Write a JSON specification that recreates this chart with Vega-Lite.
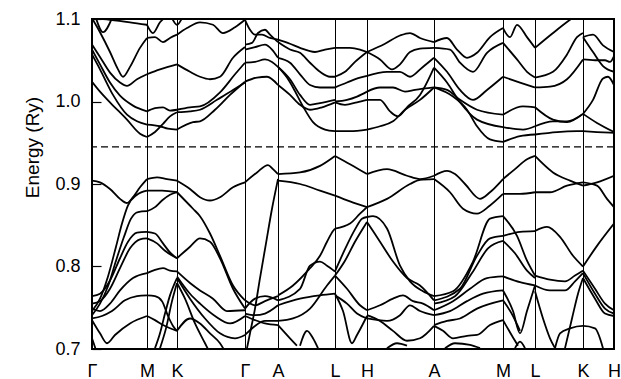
{
"$schema": "https://vega.github.io/schema/vega-lite/v6.json",
"width": 522, "height": 330,
"autosize": {"type": "none"},
"padding": {"left": 92, "top": 19, "right": 7, "bottom": 30},
"background": "white",
"config": {"view": {"stroke": "black", "strokeWidth": 2}, "font": "Liberation Sans",
"axis": {"titleFontSize": 19, "titleFontWeight": "normal", "titleColor": "black", "labelColor": "black"},
"axisY": {"titleFontSize": 19, "titleFontWeight": "normal", "titleColor": "black", "titleFont": "Liberation Sans", "labelFontSize": 18, "labelColor": "black", "labelFont": "Liberation Sans"},
"axisX": {"labelFontSize": 18, "labelColor": "black", "labelFont": "Liberation Sans"}},
"layer": [
{"data": {"values": [
{"b":"A1","k":0,"e":1.101},{"b":"A1","k":8,"e":1.084},{"b":"A1","k":18,"e":1.060},{"b":"A1","k":26,"e":1.039},{"b":"A1","k":31,"e":1.030},{"b":"A1","k":38,"e":1.042},{"b":"A1","k":48,"e":1.065},{"b":"A1","k":55,"e":1.077},
{"b":"A2","k":0,"e":1.069},{"b":"A2","k":8,"e":1.054},{"b":"A2","k":18,"e":1.035},{"b":"A2","k":28,"e":1.023},{"b":"A2","k":35,"e":1.019},{"b":"A2","k":45,"e":1.027},{"b":"A2","k":55,"e":1.033},
{"b":"A3","k":0,"e":1.063},{"b":"A3","k":8,"e":1.045},{"b":"A3","k":18,"e":1.023},{"b":"A3","k":28,"e":1.007},{"b":"A3","k":41,"e":0.995},{"b":"A3","k":55,"e":0.988},
{"b":"A4","k":0,"e":1.057},{"b":"A4","k":8,"e":1.039},{"b":"A4","k":21,"e":1.008},{"b":"A4","k":35,"e":0.984},{"b":"A4","k":45,"e":0.976},{"b":"A4","k":55,"e":0.972},
{"b":"A5","k":0,"e":1.024},{"b":"A5","k":8,"e":1.012},{"b":"A5","k":18,"e":0.999},{"b":"A5","k":35,"e":0.978},{"b":"A5","k":48,"e":0.961},{"b":"A5","k":55,"e":0.957},
{"b":"A6","k":0,"e":1.101},{"b":"A6","k":18,"e":1.099},{"b":"A6","k":38,"e":1.096},{"b":"A6","k":55,"e":1.093},
{"b":"A7","k":4,"e":1.101},{"b":"A7","k":11,"e":1.084},{"b":"A7","k":20,"e":1.101},
{"b":"A8","k":0,"e":0.904},{"b":"A8","k":8,"e":0.902},{"b":"A8","k":18,"e":0.894},{"b":"A8","k":28,"e":0.882},{"b":"A8","k":35,"e":0.877},{"b":"A8","k":41,"e":0.884},{"b":"A8","k":48,"e":0.896},{"b":"A8","k":55,"e":0.906},
{"b":"A9","k":0,"e":0.746},{"b":"A9","k":8,"e":0.761},{"b":"A9","k":16,"e":0.788},{"b":"A9","k":24,"e":0.824},{"b":"A9","k":30,"e":0.852},{"b":"A9","k":36,"e":0.874},{"b":"A9","k":45,"e":0.887},{"b":"A9","k":55,"e":0.892},
{"b":"A10","k":0,"e":0.741},{"b":"A10","k":8,"e":0.755},{"b":"A10","k":16,"e":0.776},{"b":"A10","k":24,"e":0.807},{"b":"A10","k":32,"e":0.836},{"b":"A10","k":39,"e":0.858},{"b":"A10","k":46,"e":0.866},{"b":"A10","k":55,"e":0.867},
{"b":"A11","k":0,"e":0.764},{"b":"A11","k":8,"e":0.767},{"b":"A11","k":18,"e":0.783},{"b":"A11","k":28,"e":0.810},{"b":"A11","k":36,"e":0.830},{"b":"A11","k":45,"e":0.841},{"b":"A11","k":55,"e":0.842},
{"b":"A12","k":0,"e":0.755},{"b":"A12","k":8,"e":0.758},{"b":"A12","k":18,"e":0.773},{"b":"A12","k":28,"e":0.798},{"b":"A12","k":38,"e":0.822},{"b":"A12","k":48,"e":0.833},{"b":"A12","k":55,"e":0.834},
{"b":"A13","k":0,"e":0.749},{"b":"A13","k":8,"e":0.746},{"b":"A13","k":18,"e":0.755},{"b":"A13","k":28,"e":0.771},{"b":"A13","k":41,"e":0.786},{"b":"A13","k":55,"e":0.792},
{"b":"A14","k":0,"e":0.737},{"b":"A14","k":10,"e":0.740},{"b":"A14","k":20,"e":0.746},{"b":"A14","k":33,"e":0.759},{"b":"A14","k":45,"e":0.764},{"b":"A14","k":55,"e":0.765},
{"b":"A15","k":0,"e":0.735},{"b":"A15","k":8,"e":0.719},{"b":"A15","k":15,"e":0.707},{"b":"A15","k":23,"e":0.717},{"b":"A15","k":38,"e":0.731},{"b":"A15","k":55,"e":0.740},
{"b":"A16","k":0,"e":0.713},{"b":"A16","k":5,"e":0.695},
{"b":"B1","k":55,"e":1.077},{"b":"B1","k":63,"e":1.078},{"b":"B1","k":71,"e":1.072},{"b":"B1","k":78,"e":1.077},{"b":"B1","k":85,"e":1.081},
{"b":"B2","k":55,"e":1.033},{"b":"B2","k":68,"e":1.039},{"b":"B2","k":85,"e":1.045},
{"b":"B3","k":55,"e":0.988},{"b":"B3","k":63,"e":0.992},{"b":"B3","k":71,"e":0.993},{"b":"B3","k":78,"e":0.989},{"b":"B3","k":85,"e":0.990},
{"b":"B4","k":55,"e":0.972},{"b":"B4","k":68,"e":0.970},{"b":"B4","k":76,"e":0.967},{"b":"B4","k":85,"e":0.966},
{"b":"B5","k":55,"e":0.957},{"b":"B5","k":63,"e":0.963},{"b":"B5","k":71,"e":0.973},{"b":"B5","k":78,"e":0.982},{"b":"B5","k":85,"e":0.987},
{"b":"B6","k":55,"e":1.093},{"b":"B6","k":61,"e":1.083},{"b":"B6","k":68,"e":1.096},{"b":"B6","k":72,"e":1.101},
{"b":"B6b","k":80,"e":1.101},{"b":"B6b","k":85,"e":1.093},{"b":"B6b","k":90,"e":1.101},
{"b":"B7","k":55,"e":0.906},{"b":"B7","k":65,"e":0.908},{"b":"B7","k":75,"e":0.906},{"b":"B7","k":85,"e":0.904},
{"b":"B8","k":55,"e":0.892},{"b":"B8","k":70,"e":0.892},{"b":"B8","k":85,"e":0.890},
{"b":"B9","k":55,"e":0.867},{"b":"B9","k":63,"e":0.872},{"b":"B9","k":70,"e":0.880},{"b":"B9","k":78,"e":0.887},{"b":"B9","k":85,"e":0.890},
{"b":"B10","k":55,"e":0.842},{"b":"B10","k":63,"e":0.840},{"b":"B10","k":71,"e":0.828},{"b":"B10","k":78,"e":0.817},{"b":"B10","k":85,"e":0.810},
{"b":"B11","k":55,"e":0.834},{"b":"B11","k":65,"e":0.828},{"b":"B11","k":73,"e":0.819},{"b":"B11","k":85,"e":0.810},
{"b":"B12","k":55,"e":0.792},{"b":"B12","k":63,"e":0.796},{"b":"B12","k":71,"e":0.798},{"b":"B12","k":78,"e":0.795},{"b":"B12","k":85,"e":0.794},
{"b":"B13","k":55,"e":0.765},{"b":"B13","k":63,"e":0.764},{"b":"B13","k":70,"e":0.758},{"b":"B13","k":76,"e":0.740},{"b":"B13","k":81,"e":0.728},{"b":"B13","k":85,"e":0.722},
{"b":"B14","k":55,"e":0.740},{"b":"B14","k":63,"e":0.735},{"b":"B14","k":71,"e":0.729},{"b":"B14","k":85,"e":0.722},
{"b":"B15","k":63,"e":0.701},{"b":"B15","k":68,"e":0.719},{"b":"B15","k":73,"e":0.743},{"b":"B15","k":78,"e":0.765},{"b":"B15","k":85,"e":0.786},
{"b":"B16","k":68,"e":0.701},{"b":"B16","k":74,"e":0.725},{"b":"B16","k":80,"e":0.758},{"b":"B16","k":85,"e":0.780},
{"b":"C1","k":85,"e":1.081},{"b":"C1","k":95,"e":1.089},{"b":"C1","k":108,"e":1.096},{"b":"C1","k":121,"e":1.093},{"b":"C1","k":131,"e":1.083},{"b":"C1","k":143,"e":1.090},{"b":"C1","k":153,"e":1.099},
{"b":"C2","k":85,"e":1.045},{"b":"C2","k":98,"e":1.036},{"b":"C2","k":108,"e":1.030},{"b":"C2","k":118,"e":1.027},{"b":"C2","k":128,"e":1.030},{"b":"C2","k":141,"e":1.053},{"b":"C2","k":153,"e":1.066},
{"b":"C3","k":85,"e":0.990},{"b":"C3","k":98,"e":0.993},{"b":"C3","k":108,"e":0.994},{"b":"C3","k":128,"e":1.011},{"b":"C3","k":143,"e":1.033},{"b":"C3","k":153,"e":1.047},
{"b":"C4","k":85,"e":0.987},{"b":"C4","k":98,"e":0.988},{"b":"C4","k":108,"e":0.990},{"b":"C4","k":125,"e":1.002},{"b":"C4","k":141,"e":1.014},{"b":"C4","k":153,"e":1.023},
{"b":"C5","k":85,"e":0.966},{"b":"C5","k":101,"e":0.975},{"b":"C5","k":108,"e":0.976},{"b":"C5","k":123,"e":0.990},{"b":"C5","k":138,"e":1.008},{"b":"C5","k":153,"e":1.024},
{"b":"C7","k":85,"e":0.904},{"b":"C7","k":98,"e":0.894},{"b":"C7","k":108,"e":0.884},{"b":"C7","k":118,"e":0.880},{"b":"C7","k":128,"e":0.884},{"b":"C7","k":141,"e":0.896},{"b":"C7","k":153,"e":0.902},
{"b":"C8","k":85,"e":0.890},{"b":"C8","k":101,"e":0.870},{"b":"C8","k":108,"e":0.861},{"b":"C8","k":118,"e":0.840},{"b":"C8","k":128,"e":0.813},{"b":"C8","k":141,"e":0.777},{"b":"C8","k":153,"e":0.759},
{"b":"C9","k":85,"e":0.810},{"b":"C9","k":98,"e":0.824},{"b":"C9","k":108,"e":0.834},{"b":"C9","k":118,"e":0.830},{"b":"C9","k":128,"e":0.810},{"b":"C9","k":141,"e":0.773},{"b":"C9","k":153,"e":0.749},
{"b":"C10","k":85,"e":0.794},{"b":"C10","k":98,"e":0.780},{"b":"C10","k":108,"e":0.771},{"b":"C10","k":121,"e":0.761},{"b":"C10","k":135,"e":0.746},{"b":"C10","k":153,"e":0.747},
{"b":"C11","k":85,"e":0.788},{"b":"C11","k":98,"e":0.767},{"b":"C11","k":108,"e":0.755},{"b":"C11","k":123,"e":0.740},{"b":"C11","k":138,"e":0.731},{"b":"C11","k":153,"e":0.740},
{"b":"C12","k":85,"e":0.786},{"b":"C12","k":98,"e":0.761},{"b":"C12","k":113,"e":0.737},{"b":"C12","k":128,"e":0.719},{"b":"C12","k":143,"e":0.713},{"b":"C12","k":153,"e":0.717},
{"b":"C13","k":85,"e":0.780},{"b":"C13","k":93,"e":0.761},{"b":"C13","k":103,"e":0.731},{"b":"C13","k":113,"e":0.707},{"b":"C13","k":118,"e":0.695},
{"b":"C14","k":85,"e":0.722},{"b":"C14","k":98,"e":0.737},{"b":"C14","k":108,"e":0.731},{"b":"C14","k":118,"e":0.719},{"b":"C14","k":128,"e":0.707},{"b":"C14","k":134,"e":0.695},
{"b":"D1","k":153,"e":1.099},{"b":"D1","k":158,"e":1.087},{"b":"D1","k":163,"e":1.081},{"b":"D1","k":170,"e":1.081},{"b":"D1","k":178,"e":1.077},{"b":"D1","k":186,"e":1.075},
{"b":"D2","k":153,"e":1.069},{"b":"D2","k":160,"e":1.071},{"b":"D2","k":166,"e":1.083},{"b":"D2","k":173,"e":1.087},{"b":"D2","k":178,"e":1.081},{"b":"D2","k":186,"e":1.072},
{"b":"D3","k":153,"e":1.063},{"b":"D3","k":163,"e":1.066},{"b":"D3","k":173,"e":1.069},{"b":"D3","k":180,"e":1.063},{"b":"D3","k":186,"e":1.053},
{"b":"D4","k":153,"e":1.047},{"b":"D4","k":163,"e":1.048},{"b":"D4","k":173,"e":1.051},{"b":"D4","k":180,"e":1.048},{"b":"D4","k":186,"e":1.042},
{"b":"D5","k":153,"e":1.024},{"b":"D5","k":165,"e":1.029},{"b":"D5","k":175,"e":1.030},{"b":"D5","k":186,"e":1.020},
{"b":"D6","k":153,"e":0.902},{"b":"D6","k":165,"e":0.914},{"b":"D6","k":176,"e":0.923},{"b":"D6","k":181,"e":0.918},{"b":"D6","k":186,"e":0.912},
{"b":"D7","k":155,"e":0.701},{"b":"D7","k":158,"e":0.719},{"b":"D7","k":163,"e":0.749},{"b":"D7","k":168,"e":0.786},{"b":"D7","k":174,"e":0.828},{"b":"D7","k":180,"e":0.870},{"b":"D7","k":186,"e":0.906},
{"b":"D8","k":153,"e":0.759},{"b":"D8","k":163,"e":0.753},{"b":"D8","k":173,"e":0.758},{"b":"D8","k":186,"e":0.764},
{"b":"D9","k":153,"e":0.749},{"b":"D9","k":163,"e":0.761},{"b":"D9","k":173,"e":0.764},{"b":"D9","k":186,"e":0.759},
{"b":"D10","k":153,"e":0.743},{"b":"D10","k":163,"e":0.741},{"b":"D10","k":173,"e":0.743},{"b":"D10","k":186,"e":0.753},
{"b":"D11","k":153,"e":0.740},{"b":"D11","k":163,"e":0.735},{"b":"D11","k":173,"e":0.731},{"b":"D11","k":186,"e":0.729},
{"b":"D12","k":153,"e":0.717},{"b":"D12","k":163,"e":0.728},{"b":"D12","k":173,"e":0.734},{"b":"D12","k":186,"e":0.734},
{"b":"E1","k":186,"e":1.075},{"b":"E1","k":198,"e":1.070},{"b":"E1","k":208,"e":1.065},{"b":"E1","k":223,"e":1.060},{"b":"E1","k":233,"e":1.063},{"b":"E1","k":243,"e":1.065},
{"b":"E2","k":186,"e":1.072},{"b":"E2","k":198,"e":1.063},{"b":"E2","k":208,"e":1.059},{"b":"E2","k":218,"e":1.047},{"b":"E2","k":228,"e":1.036},{"b":"E2","k":238,"e":1.030},{"b":"E2","k":243,"e":1.030},
{"b":"E3","k":186,"e":1.053},{"b":"E3","k":198,"e":1.047},{"b":"E3","k":208,"e":1.033},{"b":"E3","k":218,"e":1.020},{"b":"E3","k":228,"e":1.017},{"b":"E3","k":243,"e":1.017},
{"b":"E4","k":186,"e":1.042},{"b":"E4","k":195,"e":1.029},{"b":"E4","k":201,"e":1.017},{"b":"E4","k":211,"e":0.994},{"b":"E4","k":221,"e":0.975},{"b":"E4","k":233,"e":0.966},{"b":"E4","k":243,"e":0.964},
{"b":"E5","k":186,"e":1.020},{"b":"E5","k":198,"e":1.008},{"b":"E5","k":208,"e":0.996},{"b":"E5","k":218,"e":0.990},{"b":"E5","k":230,"e":0.993},{"b":"E5","k":243,"e":0.999},
{"b":"E6","k":186,"e":1.042},{"b":"E6","k":198,"e":1.027},{"b":"E6","k":208,"e":1.008},{"b":"E6","k":218,"e":0.996},{"b":"E6","k":228,"e":0.998},{"b":"E6","k":243,"e":1.002},
{"b":"E7","k":186,"e":0.912},{"b":"E7","k":208,"e":0.914},{"b":"E7","k":228,"e":0.922},{"b":"E7","k":243,"e":0.934},
{"b":"E8","k":186,"e":0.904},{"b":"E8","k":208,"e":0.900},{"b":"E8","k":228,"e":0.892},{"b":"E8","k":243,"e":0.886},
{"b":"E9","k":186,"e":0.765},{"b":"E9","k":201,"e":0.777},{"b":"E9","k":218,"e":0.798},{"b":"E9","k":228,"e":0.813},{"b":"E9","k":235,"e":0.830},{"b":"E9","k":241,"e":0.843},{"b":"E9","k":243,"e":0.846},
{"b":"E10","k":186,"e":0.759},{"b":"E10","k":208,"e":0.773},{"b":"E10","k":218,"e":0.801},{"b":"E10","k":228,"e":0.806},{"b":"E10","k":235,"e":0.801},{"b":"E10","k":243,"e":0.794},
{"b":"E11","k":186,"e":0.753},{"b":"E11","k":208,"e":0.761},{"b":"E11","k":228,"e":0.765},{"b":"E11","k":243,"e":0.767},
{"b":"E12","k":186,"e":0.734},{"b":"E12","k":201,"e":0.737},{"b":"E12","k":218,"e":0.749},{"b":"E12","k":235,"e":0.777},{"b":"E12","k":243,"e":0.789},
{"b":"E13","k":186,"e":0.729},{"b":"E13","k":198,"e":0.713},{"b":"E13","k":205,"e":0.704},
{"b":"E14","k":208,"e":0.704},{"b":"E14","k":215,"e":0.722},{"b":"E14","k":221,"e":0.713},{"b":"E14","k":226,"e":0.701},
{"b":"F1","k":243,"e":1.065},{"b":"F1","k":258,"e":1.065},{"b":"F1","k":268,"e":1.063},{"b":"F1","k":275,"e":1.060},
{"b":"F2","k":243,"e":1.030},{"b":"F2","k":253,"e":1.036},{"b":"F2","k":263,"e":1.048},{"b":"F2","k":275,"e":1.060},
{"b":"F3","k":243,"e":1.017},{"b":"F3","k":255,"e":1.023},{"b":"F3","k":268,"e":1.029},{"b":"F3","k":275,"e":1.031},
{"b":"F4","k":243,"e":1.000},{"b":"F4","k":255,"e":1.002},{"b":"F4","k":265,"e":1.006},{"b":"F4","k":275,"e":1.012},
{"b":"F5","k":243,"e":0.999},{"b":"F5","k":253,"e":0.996},{"b":"F5","k":265,"e":0.999},{"b":"F5","k":275,"e":1.002},
{"b":"F6","k":243,"e":0.964},{"b":"F6","k":258,"e":0.964},{"b":"F6","k":275,"e":0.966},
{"b":"F7","k":243,"e":0.934},{"b":"F7","k":258,"e":0.924},{"b":"F7","k":275,"e":0.912},
{"b":"F8","k":243,"e":0.886},{"b":"F8","k":258,"e":0.879},{"b":"F8","k":275,"e":0.872},
{"b":"F9","k":243,"e":0.846},{"b":"F9","k":258,"e":0.852},{"b":"F9","k":268,"e":0.864},{"b":"F9","k":275,"e":0.872},
{"b":"F10","k":243,"e":0.794},{"b":"F10","k":253,"e":0.821},{"b":"F10","k":263,"e":0.845},{"b":"F10","k":270,"e":0.858},{"b":"F10","k":275,"e":0.860},
{"b":"F11","k":243,"e":0.789},{"b":"F11","k":253,"e":0.807},{"b":"F11","k":263,"e":0.830},{"b":"F11","k":275,"e":0.854},
{"b":"F12","k":243,"e":0.767},{"b":"F12","k":251,"e":0.746},{"b":"F12","k":260,"e":0.707},{"b":"F12","k":265,"e":0.717},{"b":"F12","k":275,"e":0.740},
{"b":"F13","k":243,"e":0.789},{"b":"F13","k":255,"e":0.773},{"b":"F13","k":268,"e":0.753},{"b":"F13","k":275,"e":0.747},
{"b":"F14","k":243,"e":0.765},{"b":"F14","k":255,"e":0.755},{"b":"F14","k":265,"e":0.743},{"b":"F14","k":275,"e":0.737},
{"b":"G1","k":275,"e":1.060},{"b":"G1","k":293,"e":1.070},{"b":"G1","k":308,"e":1.080},{"b":"G1","k":318,"e":1.083},{"b":"G1","k":328,"e":1.077},{"b":"G1","k":342,"e":1.072},
{"b":"G2","k":275,"e":1.060},{"b":"G2","k":288,"e":1.051},{"b":"G2","k":300,"e":1.039},{"b":"G2","k":308,"e":1.045},{"b":"G2","k":318,"e":1.060},{"b":"G2","k":328,"e":1.064},{"b":"G2","k":342,"e":1.065},
{"b":"G3","k":275,"e":1.031},{"b":"G3","k":295,"e":1.036},{"b":"G3","k":308,"e":1.036},{"b":"G3","k":318,"e":1.030},{"b":"G3","k":330,"e":1.041},{"b":"G3","k":342,"e":1.053},
{"b":"G4","k":275,"e":1.012},{"b":"G4","k":288,"e":1.017},{"b":"G4","k":301,"e":1.017},{"b":"G4","k":313,"e":1.012},{"b":"G4","k":323,"e":1.014},{"b":"G4","k":342,"e":1.017},
{"b":"G5","k":275,"e":1.002},{"b":"G5","k":288,"e":1.002},{"b":"G5","k":298,"e":0.988},{"b":"G5","k":306,"e":0.982},{"b":"G5","k":315,"e":0.993},{"b":"G5","k":328,"e":1.008},{"b":"G5","k":342,"e":1.041},
{"b":"G6","k":275,"e":0.966},{"b":"G6","k":288,"e":0.970},{"b":"G6","k":301,"e":0.976},{"b":"G6","k":313,"e":0.990},{"b":"G6","k":328,"e":1.002},{"b":"G6","k":342,"e":1.017},
{"b":"G7","k":275,"e":0.912},{"b":"G7","k":295,"e":0.918},{"b":"G7","k":315,"e":0.910},{"b":"G7","k":328,"e":0.906},{"b":"G7","k":342,"e":0.910},
{"b":"G8","k":275,"e":0.872},{"b":"G8","k":295,"e":0.882},{"b":"G8","k":318,"e":0.900},{"b":"G8","k":328,"e":0.905},{"b":"G8","k":342,"e":0.906},
{"b":"G9","k":275,"e":0.860},{"b":"G9","k":281,"e":0.861},{"b":"G9","k":295,"e":0.846},{"b":"G9","k":308,"e":0.801},{"b":"G9","k":318,"e":0.782},{"b":"G9","k":331,"e":0.770},{"b":"G9","k":342,"e":0.764},
{"b":"G10","k":275,"e":0.854},{"b":"G10","k":288,"e":0.830},{"b":"G10","k":301,"e":0.806},{"b":"G10","k":315,"e":0.786},{"b":"G10","k":328,"e":0.777},{"b":"G10","k":342,"e":0.759},
{"b":"G11","k":275,"e":0.747},{"b":"G11","k":288,"e":0.753},{"b":"G11","k":301,"e":0.761},{"b":"G11","k":311,"e":0.765},{"b":"G11","k":321,"e":0.758},{"b":"G11","k":331,"e":0.755},{"b":"G11","k":342,"e":0.747},
{"b":"G12","k":275,"e":0.741},{"b":"G12","k":288,"e":0.734},{"b":"G12","k":301,"e":0.722},{"b":"G12","k":315,"e":0.710},{"b":"G12","k":328,"e":0.713},{"b":"G12","k":342,"e":0.728},
{"b":"G13","k":275,"e":0.737},{"b":"G13","k":295,"e":0.734},{"b":"G13","k":308,"e":0.741},{"b":"G13","k":318,"e":0.753},{"b":"G13","k":328,"e":0.746},{"b":"G13","k":342,"e":0.741},
{"b":"G14","k":295,"e":0.701},{"b":"G14","k":305,"e":0.707},{"b":"G14","k":315,"e":0.704},
{"b":"H1","k":342,"e":1.072},{"b":"H1","k":355,"e":1.077},{"b":"H1","k":365,"e":1.063},{"b":"H1","k":375,"e":1.053},{"b":"H1","k":385,"e":1.059},{"b":"H1","k":398,"e":1.078},{"b":"H1","k":411,"e":1.089},
{"b":"H2","k":342,"e":1.065},{"b":"H2","k":358,"e":1.063},{"b":"H2","k":368,"e":1.047},{"b":"H2","k":381,"e":1.036},{"b":"H2","k":395,"e":1.059},{"b":"H2","k":411,"e":1.071},
{"b":"H3","k":342,"e":1.053},{"b":"H3","k":355,"e":1.036},{"b":"H3","k":368,"e":1.014},{"b":"H3","k":381,"e":1.002},{"b":"H3","k":395,"e":1.014},{"b":"H3","k":411,"e":1.030},
{"b":"H4","k":342,"e":1.041},{"b":"H4","k":355,"e":1.023},{"b":"H4","k":368,"e":0.999},{"b":"H4","k":385,"e":0.978},{"b":"H4","k":411,"e":0.969},
{"b":"H5","k":342,"e":1.017},{"b":"H5","k":355,"e":1.014},{"b":"H5","k":368,"e":1.002},{"b":"H5","k":385,"e":0.990},{"b":"H5","k":411,"e":0.984},
{"b":"H6","k":342,"e":1.017},{"b":"H6","k":361,"e":1.006},{"b":"H6","k":375,"e":0.990},{"b":"H6","k":385,"e":0.970},{"b":"H6","k":398,"e":0.954},{"b":"H6","k":411,"e":0.951},
{"b":"H7","k":342,"e":0.910},{"b":"H7","k":355,"e":0.916},{"b":"H7","k":363,"e":0.912},{"b":"H7","k":373,"e":0.900},{"b":"H7","k":388,"e":0.882},{"b":"H7","k":398,"e":0.890},{"b":"H7","k":411,"e":0.906},
{"b":"H8","k":342,"e":0.906},{"b":"H8","k":358,"e":0.890},{"b":"H8","k":371,"e":0.870},{"b":"H8","k":385,"e":0.864},{"b":"H8","k":398,"e":0.874},{"b":"H8","k":411,"e":0.888},
{"b":"H9","k":342,"e":0.764},{"b":"H9","k":361,"e":0.770},{"b":"H9","k":381,"e":0.806},{"b":"H9","k":398,"e":0.858},{"b":"H9","k":411,"e":0.861},
{"b":"H10","k":342,"e":0.759},{"b":"H10","k":368,"e":0.773},{"b":"H10","k":385,"e":0.813},{"b":"H10","k":398,"e":0.834},{"b":"H10","k":411,"e":0.837},
{"b":"H10b","k":342,"e":0.755},{"b":"H10b","k":363,"e":0.764},{"b":"H10b","k":380,"e":0.792},{"b":"H10b","k":396,"e":0.822},{"b":"H10b","k":411,"e":0.831},
{"b":"H11","k":342,"e":0.747},{"b":"H11","k":361,"e":0.758},{"b":"H11","k":378,"e":0.773},{"b":"H11","k":395,"e":0.786},{"b":"H11","k":411,"e":0.788},
{"b":"H12","k":342,"e":0.741},{"b":"H12","k":358,"e":0.746},{"b":"H12","k":375,"e":0.758},{"b":"H12","k":391,"e":0.767},{"b":"H12","k":411,"e":0.771},
{"b":"H13","k":342,"e":0.729},{"b":"H13","k":355,"e":0.734},{"b":"H13","k":368,"e":0.737},{"b":"H13","k":385,"e":0.749},{"b":"H13","k":411,"e":0.759},
{"b":"H14","k":342,"e":0.728},{"b":"H14","k":351,"e":0.722},{"b":"H14","k":361,"e":0.713},{"b":"H14","k":375,"e":0.716},{"b":"H14","k":385,"e":0.717},{"b":"H14","k":398,"e":0.729},{"b":"H14","k":411,"e":0.735},
{"b":"H15","k":353,"e":0.701},{"b":"H15","k":363,"e":0.707},{"b":"H15","k":378,"e":0.705},{"b":"H15","k":388,"e":0.701},
{"b":"I1","k":411,"e":1.089},{"b":"I1","k":418,"e":1.078},{"b":"I1","k":425,"e":1.093},{"b":"I1","k":435,"e":1.078},{"b":"I1","k":443,"e":1.065},
{"b":"I2","k":411,"e":1.071},{"b":"I2","k":425,"e":1.051},{"b":"I2","k":435,"e":1.036},{"b":"I2","k":443,"e":1.029},
{"b":"I3","k":411,"e":1.030},{"b":"I3","k":428,"e":1.023},{"b":"I3","k":443,"e":1.017},
{"b":"I4","k":411,"e":0.984},{"b":"I4","k":431,"e":0.994},{"b":"I4","k":443,"e":0.993},
{"b":"I5","k":411,"e":0.969},{"b":"I5","k":431,"e":0.966},{"b":"I5","k":443,"e":0.970},
{"b":"I6","k":411,"e":0.951},{"b":"I6","k":428,"e":0.958},{"b":"I6","k":443,"e":0.960},
{"b":"I7","k":411,"e":0.906},{"b":"I7","k":423,"e":0.918},{"b":"I7","k":435,"e":0.930},{"b":"I7","k":443,"e":0.934},
{"b":"I8","k":411,"e":0.888},{"b":"I8","k":428,"e":0.888},{"b":"I8","k":443,"e":0.890},
{"b":"I9","k":411,"e":0.861},{"b":"I9","k":425,"e":0.837},{"b":"I9","k":435,"e":0.807},{"b":"I9","k":443,"e":0.789},
{"b":"I10","k":411,"e":0.831},{"b":"I10","k":423,"e":0.816},{"b":"I10","k":435,"e":0.795},{"b":"I10","k":443,"e":0.786},
{"b":"I16","k":411,"e":0.837},{"b":"I16","k":428,"e":0.842},{"b":"I16","k":443,"e":0.843},
{"b":"I11","k":411,"e":0.788},{"b":"I11","k":428,"e":0.781},{"b":"I11","k":443,"e":0.777},
{"b":"I12","k":411,"e":0.771},{"b":"I12","k":421,"e":0.746},{"b":"I12","k":428,"e":0.719},{"b":"I12","k":435,"e":0.746},{"b":"I12","k":443,"e":0.777},
{"b":"I13","k":411,"e":0.759},{"b":"I13","k":421,"e":0.740},{"b":"I13","k":428,"e":0.722},
{"b":"I14","k":411,"e":0.735},{"b":"I14","k":420,"e":0.716},{"b":"I14","k":426,"e":0.704},
{"b":"I15","k":443,"e":0.770},{"b":"I15","k":451,"e":0.737},{"b":"I15","k":458,"e":0.713},{"b":"I15","k":463,"e":0.701},
{"b":"I17","k":423,"e":0.701},{"b":"I17","k":428,"e":0.709},{"b":"I17","k":433,"e":0.701},
{"b":"J1","k":443,"e":1.065},{"b":"J1","k":461,"e":1.083},{"b":"J1","k":478,"e":1.099},{"b":"J1","k":485,"e":1.105},
{"b":"J2","k":443,"e":1.029},{"b":"J2","k":461,"e":1.036},{"b":"J2","k":475,"e":1.057},{"b":"J2","k":485,"e":1.078},{"b":"J2","k":491,"e":1.083},
{"b":"J3","k":443,"e":1.017},{"b":"J3","k":458,"e":1.018},{"b":"J3","k":475,"e":1.027},{"b":"J3","k":491,"e":1.051},
{"b":"J4","k":443,"e":0.993},{"b":"J4","k":461,"e":0.978},{"b":"J4","k":475,"e":0.975},{"b":"J4","k":491,"e":0.985},
{"b":"J5","k":443,"e":0.970},{"b":"J5","k":461,"e":0.976},{"b":"J5","k":475,"e":0.976},{"b":"J5","k":491,"e":0.985},
{"b":"J6","k":443,"e":0.960},{"b":"J6","k":465,"e":0.963},{"b":"J6","k":485,"e":0.964},{"b":"J6","k":491,"e":0.964},
{"b":"J7","k":443,"e":0.934},{"b":"J7","k":461,"e":0.914},{"b":"J7","k":478,"e":0.904},{"b":"J7","k":491,"e":0.898},
{"b":"J8","k":443,"e":0.890},{"b":"J8","k":458,"e":0.890},{"b":"J8","k":475,"e":0.898},{"b":"J8","k":491,"e":0.902},
{"b":"J9","k":443,"e":0.843},{"b":"J9","k":455,"e":0.848},{"b":"J9","k":468,"e":0.836},{"b":"J9","k":481,"e":0.813},{"b":"J9","k":491,"e":0.800},
{"b":"J10","k":443,"e":0.789},{"b":"J10","k":458,"e":0.784},{"b":"J10","k":473,"e":0.782},{"b":"J10","k":483,"e":0.789},{"b":"J10","k":491,"e":0.795},
{"b":"J11","k":443,"e":0.777},{"b":"J11","k":458,"e":0.771},{"b":"J11","k":473,"e":0.771},{"b":"J11","k":483,"e":0.782},{"b":"J11","k":491,"e":0.792},
{"b":"J14","k":463,"e":0.701},{"b":"J14","k":468,"e":0.719},{"b":"J14","k":478,"e":0.725},{"b":"J14","k":491,"e":0.728},{"b":"J14","k":503,"e":0.725},{"b":"J14","k":511,"e":0.701},
{"b":"J15","k":473,"e":0.701},{"b":"J15","k":480,"e":0.737},{"b":"J15","k":486,"e":0.767},{"b":"J15","k":491,"e":0.786},
{"b":"K1","k":491,"e":1.078},{"b":"K1","k":501,"e":1.081},{"b":"K1","k":511,"e":1.068},{"b":"K1","k":522,"e":1.060},
{"b":"K2","k":491,"e":1.078},{"b":"K2","k":501,"e":1.060},{"b":"K2","k":511,"e":1.043},{"b":"K2","k":522,"e":1.036},
{"b":"K3","k":491,"e":1.051},{"b":"K3","k":503,"e":1.050},{"b":"K3","k":513,"e":1.050},{"b":"K3","k":518,"e":1.048},{"b":"K3","k":522,"e":1.055},
{"b":"K4","k":491,"e":0.985},{"b":"K4","k":505,"e":0.974},{"b":"K4","k":522,"e":0.963},
{"b":"K5","k":491,"e":0.985},{"b":"K5","k":501,"e":1.002},{"b":"K5","k":511,"e":1.028},{"b":"K5","k":516,"e":1.030},{"b":"K5","k":522,"e":1.020},
{"b":"K12","k":491,"e":0.964},{"b":"K12","k":505,"e":0.963},{"b":"K12","k":522,"e":0.962},
{"b":"K6","k":491,"e":0.898},{"b":"K6","k":505,"e":0.902},{"b":"K6","k":522,"e":0.910},
{"b":"K7","k":491,"e":0.902},{"b":"K7","k":505,"e":0.898},{"b":"K7","k":515,"e":0.882},{"b":"K7","k":522,"e":0.872},
{"b":"K8","k":491,"e":0.800},{"b":"K8","k":505,"e":0.825},{"b":"K8","k":522,"e":0.852},
{"b":"K9","k":491,"e":0.795},{"b":"K9","k":503,"e":0.773},{"b":"K9","k":513,"e":0.755},{"b":"K9","k":522,"e":0.747},
{"b":"K10","k":491,"e":0.792},{"b":"K10","k":503,"e":0.767},{"b":"K10","k":513,"e":0.749},{"b":"K10","k":522,"e":0.743},
{"b":"K11","k":491,"e":0.786},{"b":"K11","k":503,"e":0.761},{"b":"K11","k":513,"e":0.743},{"b":"K11","k":522,"e":0.740}
]},
"mark": {"type": "line", "color": "black", "strokeWidth": 1.8, "interpolate": "monotone", "clip": true},
"encoding": {
"x": {"field": "k", "type": "quantitative", "scale": {"domain": [0, 522], "nice": false, "zero": false},
"axis": {"values": [0, 55, 85, 153, 186, 243, 275, 342, 411, 443, 491, 522],
"labelExpr": "{'0':'Γ','55':'M','85':'K','153':'Γ','186':'A','243':'L','275':'H','342':'A','411':'M','443':'L','491':'K','522':'H'}[datum.value]",
"grid": true, "gridColor": "black", "gridOpacity": 1, "gridWidth": 1, "ticks": false, "domain": false,
"labelFontSize": 18, "labelPadding": 13, "labelFlush": false, "labelOverlap": false, "title": null}},
"y": {"field": "e", "type": "quantitative", "title": "Energy (Ry)", "scale": {"domain": [0.7, 1.1], "nice": false, "zero": false},
"axis": {"values": [0.7, 0.8, 0.9, 1.0, 1.1], "format": ".1f", "grid": false, "domain": false, "tickSize": -9, "tickColor": "black", "tickWidth": 1.2,
"labelFontSize": 18, "labelPadding": 21, "labelFlush": false,
"titleFontSize": 19, "titleFontWeight": "normal", "titleFont": "Liberation Sans", "titleLimit": 400, "titlePadding": 12, "titleY": 128}},
"detail": {"field": "b"},
"order": {"field": "k"}
}},
{"data": {"values": [{"ef": 0.945}]},
"mark": {"type": "rule", "color": "black", "strokeDash": [7, 4], "strokeWidth": 1.2},
"encoding": {"y": {"field": "ef", "type": "quantitative", "title": "Energy (Ry)",
"axis": {"values": [0.7, 0.8, 0.9, 1.0, 1.1], "format": ".1f", "grid": false, "domain": false, "tickSize": -9, "tickColor": "black", "tickWidth": 1.2,
"labelFontSize": 18, "labelPadding": 21, "labelFlush": false,
"titleFontSize": 19, "titleFontWeight": "normal", "titleFont": "Liberation Sans", "titleLimit": 400, "titlePadding": 12, "titleY": 128}}}}
]
}
